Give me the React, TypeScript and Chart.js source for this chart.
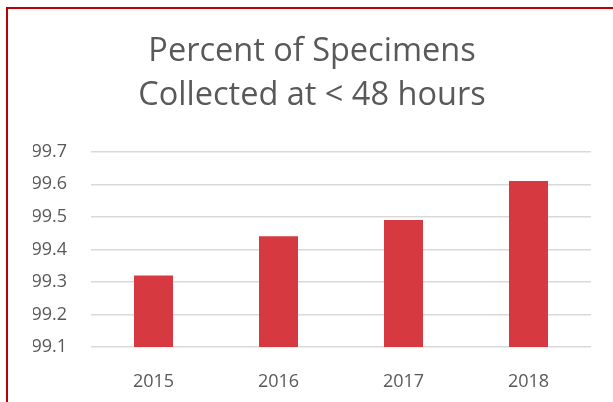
import React, { useEffect, useRef } from "react";
import { Chart, registerables } from "chart.js";

Chart.register(...registerables);

const categories = ["2015", "2016", "2017", "2018"];
const values = [99.32, 99.44, 99.49, 99.61];
const titleLines = ["Percent of Specimens", "Collected at < 48 hours"];
const yMin = 99.1;
const yMax = 99.7;
const yStep = 0.1;

export default function App() {
  const ref = useRef<HTMLCanvasElement | null>(null);

  useEffect(() => {
    if (!ref.current) return;
    const chart = new Chart(ref.current, {
      type: "bar",
      data: {
        labels: categories,
        datasets: [
          {
            data: values,
            backgroundColor: "#d63a40",
            borderWidth: 0,
            categoryPercentage: 1,
            barPercentage: 0.312,
          },
        ],
      },
      options: {
        animation: false,
        responsive: false,
        devicePixelRatio: 1,
        layout: { padding: { top: 0, left: 33, right: 22, bottom: 0 } },
        plugins: {
          legend: { display: false },
          tooltip: { enabled: false },
          title: {
            display: true,
            text: titleLines,
            color: "#595959",
            font: { family: "'Open Sans'", size: 32.5, weight: "normal", lineHeight: 1.35 },
            padding: { top: 30, bottom: 34 },
          },
        },
        scales: {
          x: {
            grid: { display: false, drawTicks: false },
            border: { display: false },
            ticks: {
              color: "#595959",
              font: { family: "'Open Sans'", size: 18 },
              padding: 24,
            },
            afterFit: (s: any) => {
              s.height = 55;
            },
          },
          y: {
            min: yMin,
            max: yMax,
            grid: { color: "#d9d9d9", lineWidth: 1.5, drawTicks: false },
            border: { display: false },
            ticks: {
              stepSize: yStep,
              color: "#595959",
              font: { family: "'Open Sans'", size: 18 },
              padding: 24,
              callback: (v: any) => Number(v).toFixed(1),
            },
            afterFit: (s: any) => {
              s.width = 58;
            },
          },
        },
      },
    });
    return () => chart.destroy();
  }, []);

  return (
    <div
      style={{
        position: "fixed",
        left: 0,
        top: 0,
        width: 613,
        height: 402,
        overflow: "hidden",
        background: "#fff",
      }}
    >
      <canvas
        ref={ref}
        width={613}
        height={402}
        style={{ position: "absolute", left: 0, top: 0, width: 613, height: 402 }}
      />
      <div
        style={{
          position: "absolute",
          left: 6,
          top: 7,
          width: 700,
          height: 500,
          borderLeft: "2px solid #c00000",
          borderTop: "2px solid #c00000",
          pointerEvents: "none",
        }}
      />
    </div>
  );
}
